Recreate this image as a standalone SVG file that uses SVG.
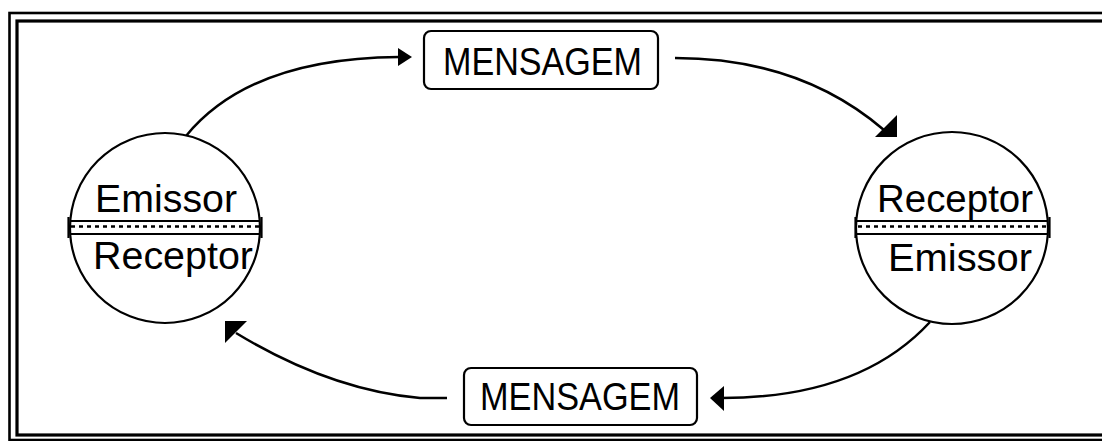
<svg xmlns="http://www.w3.org/2000/svg" width="1102" height="441" viewBox="0 0 1102 441">
  <style>
    .frame { fill: none; stroke: #000; }
    .circ { fill: #fff; stroke: #000; stroke-width: 2.2; }
    .sep { fill: none; stroke: #000; stroke-width: 2.2; }
    .wave { fill: none; stroke: #000; stroke-width: 2.4; stroke-dasharray: 4 4; }
    .box { fill: #fff; stroke: #000; stroke-width: 2.2; }
    .lbl { font-family: "Liberation Sans", Arial, sans-serif; font-size: 39px; fill: #000; }
    .conn { fill: none; stroke: #000; stroke-width: 2.5; }
    .head { fill: #000; stroke: none; }
  </style>
  <rect width="1102" height="441" fill="#fff"/>
  <g id="frame">
    <rect class="frame" x="9.5" y="13" width="2000" height="427" stroke-width="2.6"/>
    <rect class="frame" x="17" y="21" width="2000" height="414" stroke-width="3.2"/>
  </g>
  <g id="connectors">
    <path class="conn" d="M 186 136 Q 250 58 399 57"/>
    <polygon class="head" points="412,57 398,48 398,66"/>
    <path class="conn" d="M 675 58 Q 800 58 884 130"/>
    <polygon class="head" points="897,137 897,115 875,137"/>
    <path class="conn" d="M 930 322 Q 860 398 722 398"/>
    <polygon class="head" points="710,398 724,386 724,411"/>
    <path class="conn" d="M 447 398 L 420 398 Q 330 390 236 333"/>
    <polygon class="head" points="225,321 247,321 225,343"/>
  </g>
  <g id="node-left">
    <circle class="circ" cx="165" cy="228" r="95"/>
    <path class="sep" d="M 70 221 H 260 M 70 234 H 260 M 68.5 217 V 238 M 261.5 217 V 238"/>
    <path class="wave" d="M 71 226.5 H 259"/>
    <text class="lbl" x="95" y="212" textLength="142" lengthAdjust="spacingAndGlyphs">Emissor</text>
    <text class="lbl" x="93" y="269" textLength="160" lengthAdjust="spacingAndGlyphs">Receptor</text>
  </g>
  <g id="node-right">
    <circle class="circ" cx="952" cy="228" r="96"/>
    <path class="sep" d="M 857 221 H 1048 M 857 234 H 1048 M 855.5 217 V 238 M 1049.5 217 V 238"/>
    <path class="wave" d="M 858 226.5 H 1047"/>
    <text class="lbl" x="877" y="212" textLength="156" lengthAdjust="spacingAndGlyphs">Receptor</text>
    <text class="lbl" x="888" y="271" textLength="144" lengthAdjust="spacingAndGlyphs">Emissor</text>
  </g>
  <g id="msg-top">
    <rect class="box" x="424" y="31" width="234" height="58" rx="7"/>
    <text class="lbl" x="443" y="75" textLength="199" lengthAdjust="spacingAndGlyphs">MENSAGEM</text>
  </g>
  <g id="msg-bottom">
    <rect class="box" x="464" y="368" width="233" height="57" rx="7"/>
    <text class="lbl" x="480" y="410" textLength="200" lengthAdjust="spacingAndGlyphs">MENSAGEM</text>
  </g>
</svg>
